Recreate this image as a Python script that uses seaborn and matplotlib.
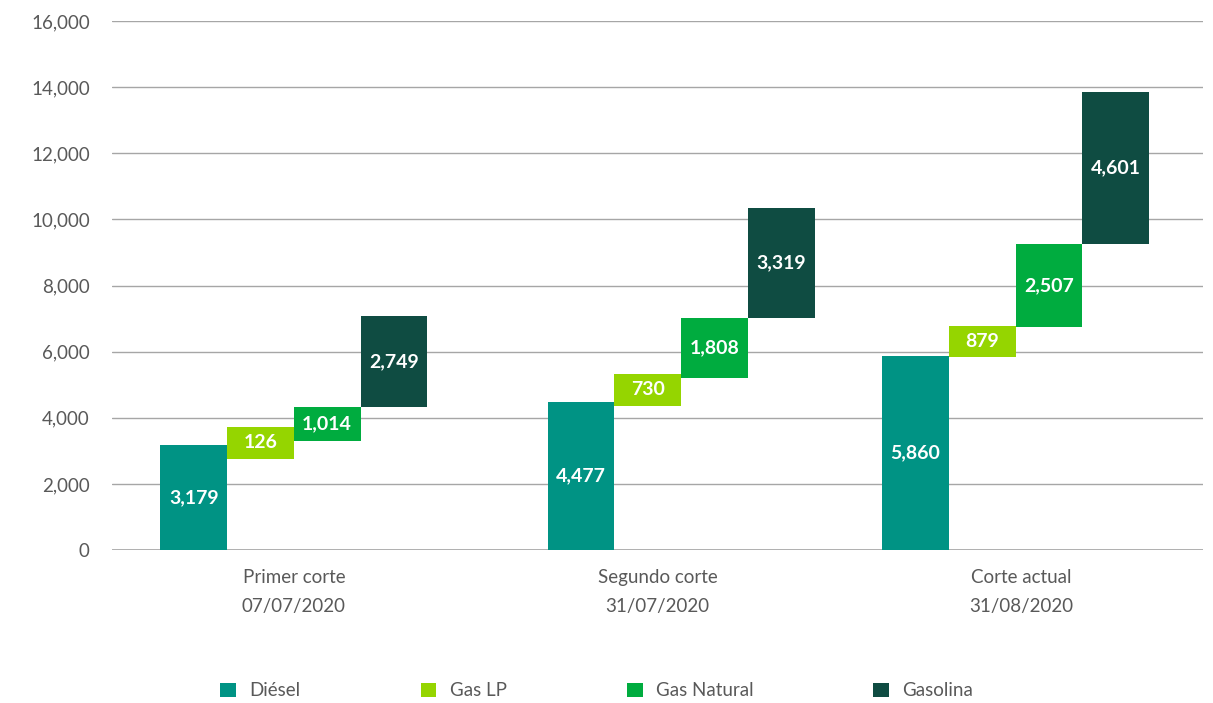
"""
Waterfall-style chart of fuel volumes per cut (Diésel, Gas LP,
Gas Natural, Gasolina), drawn with seaborn and saved as out.png.
"""

import pandas as pd
import seaborn as sns
import matplotlib.pyplot as plt
from matplotlib.patches import Patch
from matplotlib.ticker import FuncFormatter

# Data
cortes = ["Primer corte\n07/07/2020", "Segundo corte\n31/07/2020",
          "Corte actual\n31/08/2020"]
combustibles = ["Diésel", "Gas LP", "Gas Natural", "Gasolina"]
diesel = [3179, 4477, 5860]
gas_lp = [126, 730, 879]
gas_natural = [1014, 1808, 2507]
gasolina = [2749, 3319, 4601]

colores = {"Diésel": "#009384", "Gas LP": "#95D500",
           "Gas Natural": "#00AC3F", "Gasolina": "#0F4C42"}

# layout: where each group sits on the category axis, bar width, and the
# smallest bar drawn so short segments still fit their label
group_pos = [0.0, 1.065, 1.985]
bar_w = 0.1835
min_h = 950


def build_frame():
    """
    Builds one row per floating bar with its centre, bottom and height.
    """
    series = [diesel, gas_lp, gas_natural, gasolina]
    rows = []
    for g, centre in enumerate(group_pos):
        base = 0
        for k, fuel in enumerate(combustibles):
            value = series[k][g]
            mid = base + value / 2
            h = max(value, min_h)
            x = centre + (k - 1.5) * bar_w
            rows.append({"x": round(x, 4), "fuel": fuel, "value": value,
                         "mid": mid, "bottom": mid - h / 2, "height": h})
            base += value
    return pd.DataFrame(rows).sort_values("x").reset_index(drop=True)


def main():
    sns.set_theme(style="white")
    plt.rcParams["font.family"] = ["Lato", "DejaVu Sans"]

    df = build_frame()

    fig, ax = plt.subplots(figsize=(12.13, 7.03), dpi=100)
    fig.subplots_adjust(left=112 / 1213, right=1203 / 1213,
                        bottom=1 - 550 / 703, top=1 - 21 / 703)

    sns.barplot(data=df, x="x", y="height", native_scale=True, width=1,
                bottom=df["bottom"].to_numpy(), errorbar=None, color="gray",
                saturation=1, linewidth=0, ax=ax, zorder=3)
    for patch, fuel in zip(ax.patches, df["fuel"]):
        patch.set_facecolor(colores[fuel])
        patch.set_edgecolor("none")

    for _, row in df.iterrows():
        ax.text(row["x"], row["mid"], f"{row['value']:,}", ha="center",
                va="center", color="white", fontsize=14, fontweight="bold",
                zorder=4)

    ax.set_ylim(0, 16000)
    ax.set_yticks(range(0, 16001, 2000))
    ax.yaxis.set_major_formatter(FuncFormatter(lambda v, p: f"{int(v):,}"))
    ax.set_xlim(-0.5, 2.5)
    ax.set_xticks(range(len(cortes)))
    ax.set_xticklabels(cortes, linespacing=1.8)
    ax.set_xlabel("")
    ax.set_ylabel("")
    ax.grid(axis="y", color="#A6A6A6", linewidth=1, zorder=0)
    ax.set_axisbelow(True)
    for side in ["top", "right", "left", "bottom"]:
        ax.spines[side].set_visible(False)
    ax.axhline(0, color="#A6A6A6", linewidth=1.2, zorder=2)
    ax.tick_params(axis="both", length=0, labelsize=13.5,
                   labelcolor="#595959")
    ax.tick_params(axis="x", pad=14)
    ax.tick_params(axis="y", pad=16)

    handles = [Patch(facecolor=colores[f], edgecolor="none")
               for f in combustibles]
    fig.legend(handles, combustibles, loc="center", ncol=4,
               bbox_to_anchor=(0.492, 1 - 691 / 703), frameon=False,
               fontsize=13.5, labelcolor="#595959", handlelength=0.85,
               handleheight=0.85, handletextpad=0.7, columnspacing=6.4)

    fig.savefig("out.png", dpi=100)


if __name__ == '__main__':
    main()
